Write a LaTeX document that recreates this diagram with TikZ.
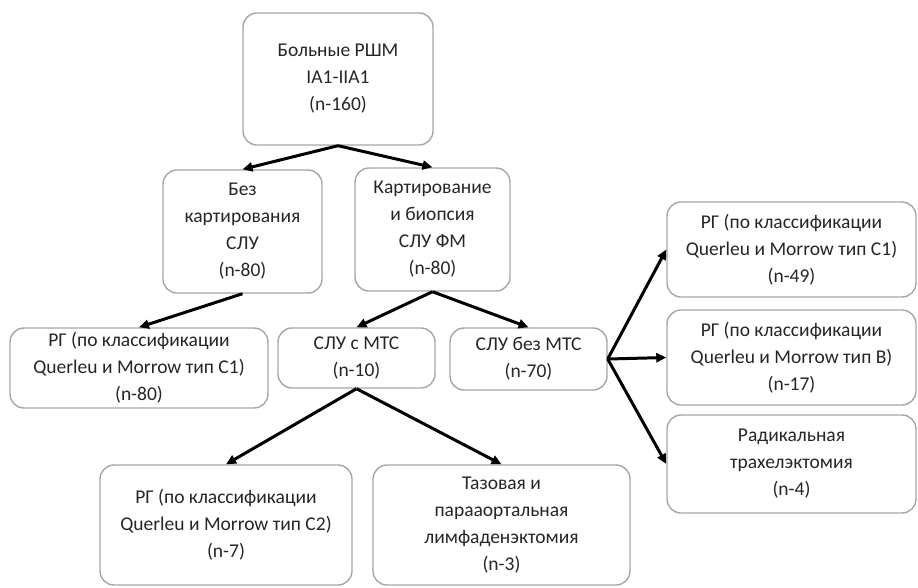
\documentclass[tikz,border=0pt]{standalone}
\usepackage{fontspec}
\setmainfont{Carlito}
\usetikzlibrary{arrows.meta}
\begin{document}
\begin{tikzpicture}[x=1pt,y=-1pt,
  box/.style={draw=gray!70, line width=1.4pt, rounded corners=14pt, fill=white,
    align=center, font=\fontsize{19.5}{27}\selectfont, text=black!85, inner sep=0pt},
  arr/.style={line width=3pt, -{Triangle[length=10pt,width=9pt]}}]
\useasboundingbox (0,0) rectangle (918,587);
\node[box, minimum width=190pt, minimum height=132pt] (top) at (338,79) {Больные РШМ\\IA1-IIA1\\(n-160)};
\node[box, minimum width=159pt, minimum height=123pt] (bez) at (242.5,231.5) {Без\\картирования\\СЛУ\\(n-80)};
\node[box, minimum width=155pt, minimum height=123pt] (kart) at (432.5,229.5) {Картирование\\и биопсия\\СЛУ ФМ\\(n-80)};
\node[box, minimum width=258pt, minimum height=80pt] (rga) at (139,368) {РГ (по классификации\\Querleu и Morrow тип С1)\\(n-80)};
\node[box, minimum width=157pt, minimum height=60pt] (smts) at (356.5,358) {СЛУ с МТС\\(n-10)};
\node[box, minimum width=157pt, minimum height=62pt] (bmts) at (528.5,359) {СЛУ без МТС\\(n-70)};
\node[box, minimum width=249pt, minimum height=95pt] (ra) at (791.5,249.5) {РГ (по классификации\\Querleu и Morrow тип С1)\\(n-49)};
\node[box, minimum width=249pt, minimum height=95pt] (rb) at (791.5,357.5) {РГ (по классификации\\Querleu и Morrow тип В)\\(n-17)};
\node[box, minimum width=249pt, minimum height=98pt] (rc) at (791.5,464) {Радикальная\\трахелэктомия\\(n-4)};
\node[box, minimum width=252pt, minimum height=120pt] (ba) at (226,525) {РГ (по классификации\\Querleu и Morrow тип С2)\\(n-7)};
\node[box, minimum width=257pt, minimum height=120pt] (bb) at (501.5,525) {Тазовая и\\парааортальная\\лимфаденэктомия\\(n-3)};
\draw[arr] (top.south) -- (bez.north);
\draw[arr] (top.south) -- (kart.north);
\draw[arr] (bez.south) -- (rga.north);
\draw[arr] (kart.south) -- (smts.north);
\draw[arr] (kart.south) -- (bmts.north);
\draw[arr] (bmts.east) -- (ra.west);
\draw[arr] (bmts.east) -- (rb.west);
\draw[arr] (bmts.east) -- (rc.west);
\draw[arr] (smts.south) -- (ba.north);
\draw[arr] (smts.south) -- (bb.north);
\end{tikzpicture}
\end{document}
